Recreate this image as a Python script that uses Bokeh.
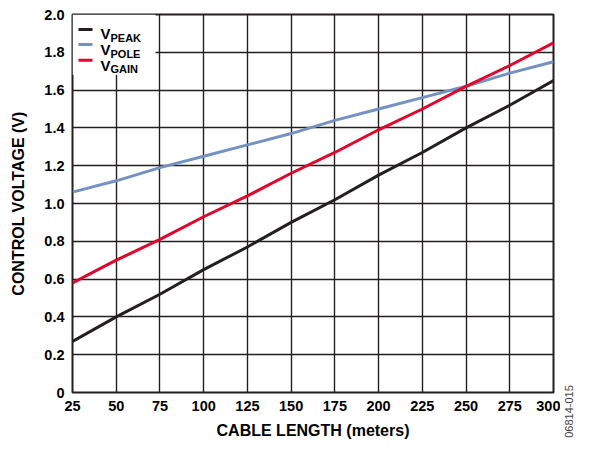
from bokeh.plotting import figure
from bokeh.models import Range1d, FixedTicker, CustomJSTickFormatter, Label, BoxAnnotation
from bokeh.layouts import row, column
from bokeh.embed import file_html
from bokeh.resources import INLINE
import math

cable_length = [25, 50, 75, 100, 125, 150, 175, 200, 225, 250, 275, 300]
v_peak = [0.27, 0.40, 0.52, 0.65, 0.77, 0.90, 1.02, 1.15, 1.27, 1.40, 1.52, 1.65]
v_pole = [1.06, 1.12, 1.19, 1.25, 1.31, 1.37, 1.44, 1.50, 1.56, 1.62, 1.69, 1.75]
v_gain = [0.58, 0.70, 0.81, 0.93, 1.04, 1.16, 1.27, 1.39, 1.50, 1.62, 1.73, 1.85]
x_ticks = [25, 50, 75, 100, 125, 150, 175, 200, 225, 250, 275, 300]
y_ticks = [0, 0.2, 0.4, 0.6, 0.8, 1.0, 1.2, 1.4, 1.6, 1.8, 2.0]
series_names = ["PEAK", "POLE", "GAIN"]
series_colors = ["#231f20", "#7391c2", "#e2062c"]
figure_id = "06814-015"

FONT = "Liberation Sans"
INK = "#231f20"

X0, X1, Y0, Y1 = 25, 300, 0, 2.0
FW, FH = 481, 383  # frame size in px
ML, MT = 72, 14
W_MAIN, W_SIDE, H = 560, 16, 441

p = figure(width=W_MAIN, height=H, output_backend="svg", toolbar_location=None,
           x_range=Range1d(X0, X1), y_range=Range1d(Y0, Y1),
           min_border_left=ML, min_border_right=W_MAIN - ML - FW, min_border_top=MT,
           min_border_bottom=H - MT - FH)
p.background_fill_color = "white"
p.border_fill_color = "white"
p.outline_line_color = INK
p.outline_line_width = 2

for ys, c in zip([v_peak, v_pole, v_gain], series_colors):
    p.line(cable_length, ys, line_color=c, line_width=3)

p.xaxis.ticker = FixedTicker(ticks=x_ticks)
p.yaxis.ticker = FixedTicker(ticks=y_ticks)
p.yaxis.formatter = CustomJSTickFormatter(code="return tick == 0 ? '0' : tick.toFixed(1);")

for ax in (p.xaxis[0], p.yaxis[0]):
    ax.axis_line_color = None
    ax.major_tick_line_color = None
    ax.minor_tick_line_color = None
    ax.major_tick_out = 0
    ax.major_tick_in = 0
    ax.major_label_text_font = FONT
    ax.major_label_text_font_style = "bold"
    ax.major_label_text_font_size = "14.5px"
    ax.major_label_text_color = "black"
    ax.axis_label_text_font = FONT
    ax.axis_label_text_font_style = "bold"
    ax.axis_label_text_font_size = "16px"
    ax.axis_label_text_color = "black"
    ax.major_label_standoff = 8

p.xaxis.axis_label = "CABLE LENGTH (meters)"
p.yaxis.axis_label = "CONTROL VOLTAGE (V)"
p.xaxis.axis_label_standoff = 8
p.yaxis.axis_label_standoff = 14

p.xgrid.grid_line_color = INK
p.ygrid.grid_line_color = INK
p.xgrid.grid_line_width = 1.4
p.ygrid.grid_line_width = 1.4


def dx(px):
    return X0 + px * (X1 - X0) / FW


def dy(px):
    return Y1 - px * (Y1 - Y0) / FH


# legend box (white) in the top-left corner
p.add_layout(BoxAnnotation(left=dx(0), right=dx(83), top=dy(0), bottom=dy(61),
                           fill_color="white", fill_alpha=1.0, line_color=None))

swatch_rows = [15.3, 30.5, 46.3]
v_baselines = [19, 35, 51]
sub_baselines = [23, 39, 54.7]
for i, name in enumerate(series_names):
    p.add_layout(BoxAnnotation(left=dx(6), right=dx(20), top=dy(swatch_rows[i] - 1.5),
                               bottom=dy(swatch_rows[i] + 1.5),
                               fill_color=series_colors[i], fill_alpha=1.0, line_color=None))
    p.add_layout(Label(x=X0, y=Y1, x_offset=28, y_offset=-v_baselines[i], text="V",
                       text_font=FONT, text_font_style="bold", text_font_size="15px",
                       text_color="black", text_baseline="alphabetic", text_align="left"))
    p.add_layout(Label(x=X0, y=Y1, x_offset=38, y_offset=-sub_baselines[i], text=name,
                       text_font=FONT, text_font_style="bold", text_font_size="11px",
                       text_color="black", text_baseline="alphabetic", text_align="left"))

# narrow side strip carrying the vertical figure number
side = figure(width=W_SIDE, height=H, output_backend="svg", toolbar_location=None,
              title=None, x_range=Range1d(0, W_SIDE), y_range=Range1d(0, H),
              x_axis_type=None, y_axis_type=None, min_border=0,
              min_border_left=0, min_border_right=0, min_border_top=0, min_border_bottom=0)
side.outline_line_color = None
side.background_fill_color = "white"
side.border_fill_color = "white"
side.grid.visible = False
side.add_layout(Label(x=8, y=30, text=figure_id, angle=math.pi / 2,
                      text_font=FONT, text_font_size="11px", text_color="#444444",
                      text_align="center", text_baseline="middle"))

layout = row(p, column(side, spacing=0), spacing=0)
open("out.html", "w").write(file_html(layout, INLINE))
